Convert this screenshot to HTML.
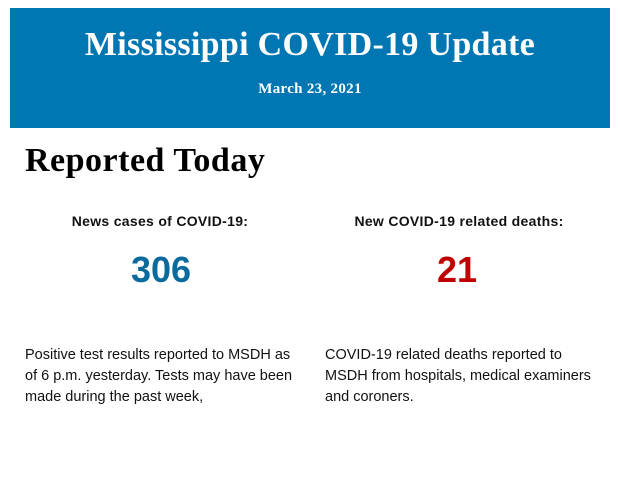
<!DOCTYPE html>
<html><head><meta charset="utf-8"><style>
body{margin:0;width:620px;height:483px;background:#fff;position:relative;overflow:hidden;font-family:"Liberation Sans",sans-serif;}
.hdr{position:absolute;left:10px;top:8px;width:600px;height:120px;background:#0077b3;color:#fff;font-family:"Liberation Serif",serif;font-weight:bold;text-align:center;}
.t{position:absolute;left:0;right:0;top:18px;font-size:34px;line-height:38px;letter-spacing:0.3px;}
.d{position:absolute;left:0;right:0;top:72px;font-size:15px;line-height:18px;letter-spacing:0.3px;}
.rt{position:absolute;left:25px;top:142px;font-family:"Liberation Serif",serif;font-weight:bold;font-size:34px;line-height:38px;letter-spacing:0.5px;color:#000;}
.h{position:absolute;top:212px;width:270px;text-align:center;font-weight:bold;font-size:14px;line-height:18px;letter-spacing:0.3px;color:#111;}
.n{position:absolute;top:250px;width:270px;text-align:center;font-weight:bold;font-size:36px;line-height:40px;}
.p{position:absolute;top:345px;font-size:14.5px;line-height:21px;color:#111;}
</style></head><body>
<div class="hdr"><div class="t">Mississippi COVID-19 Update</div><div class="d">March 23, 2021</div></div>
<div class="rt">Reported Today</div>
<div class="h" style="left:25px">News cases of COVID-19:</div>
<div class="h" style="left:324px">New COVID-19 related deaths:</div>
<div class="n" style="left:26px;color:#0a6a9c">306</div>
<div class="n" style="left:322px;color:#c00000">21</div>
<div class="p" style="left:25px;width:280px">Positive test results reported to MSDH as of 6 p.m. yesterday. Tests may have been made during the past week,</div>
<div class="p" style="left:325px;width:270px">COVID-19 related deaths reported to MSDH from hospitals, medical examiners and coroners.</div>
</body></html>
